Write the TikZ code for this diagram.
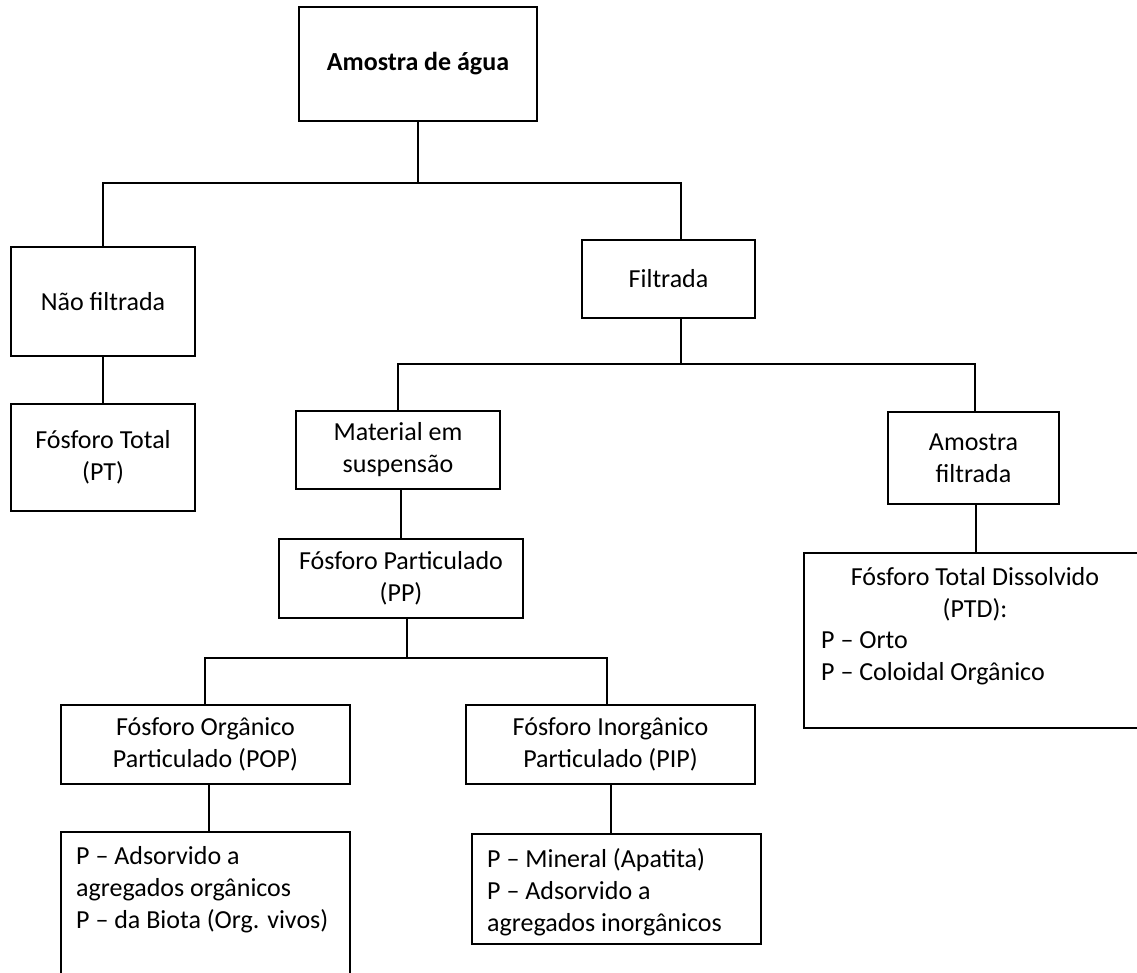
\documentclass[tikz,border=0pt]{standalone}
\usepackage{fontspec}
\setmainfont{Carlito}
\begin{document}
\begin{tikzpicture}[x=1pt,y=-1pt,
  box/.style={draw=black, line width=2pt, inner sep=0pt, align=center,
              font=\fontsize{26}{32}\selectfont},
  txt/.style={inner sep=0pt, font=\fontsize{26}{32}\selectfont},
  link/.style={draw=black, line width=2pt}]
\clip (0,0) rectangle (1137,972);
% boxes
\node[box, minimum width=238pt, minimum height=114pt, font=\fontsize{26}{32}\selectfont\bfseries] (amostra) at (418,64) {Amostra de água};
\node[box, minimum width=184pt, minimum height=109pt] (naofilt) at (103,301.5) {Não filtrada};
\node[box, minimum width=184pt, minimum height=107pt] (pt) at (103,457.5) {Fósforo Total\\(PT)};
\node[box, minimum width=173pt, minimum height=78pt] (filtrada) at (668.5,279) {Filtrada};
\node[box, minimum width=204pt, minimum height=78pt] (material) at (398,450) {Material em\\suspensão};
\node[box, minimum width=244pt, minimum height=79pt] (pp) at (401,578.5) {Fósforo Particulado\\(PP)};
\node[box, minimum width=171pt, minimum height=92pt] (amfilt) at (973.5,458) {Amostra\\filtrada};
\node[box, minimum width=346pt, minimum height=175pt] (ptd) at (977,640.5) {};
\node[txt, anchor=base] (ptd-t1) at (975,585) {Fósforo Total Dissolvido};
\node[txt, anchor=base] (ptd-t2) at (975,617) {(PTD):};
\node[txt, anchor=base west] (ptd-t3) at (821,648) {P – Orto};
\node[txt, anchor=base west] (ptd-t4) at (821,680) {P – Coloidal Orgânico};
\node[box, minimum width=289pt, minimum height=79pt] (pop) at (205.5,744.5) {Fósforo Orgânico\\Particulado (POP)};
\node[box, minimum width=289pt, minimum height=79pt] (pip) at (610.5,744.5) {Fósforo Inorgânico\\Particulado (PIP)};
\node[box, minimum width=289pt, minimum height=168pt] (popsub) at (205.5,916) {};
\node[txt, anchor=base west] (popsub-t1) at (76,864) {P – Adsorvido a};
\node[txt, anchor=base west] (popsub-t2) at (76,896) {agregados orgânicos};
\node[txt, anchor=base west] (popsub-t3) at (76,928) {P – da Biota (Org. vivos)};
\node[box, minimum width=289pt, minimum height=110pt] (pipsub) at (616.5,889) {};
\node[txt, anchor=base west] (pipsub-t1) at (487,867) {P – Mineral (Apatita)};
\node[txt, anchor=base west] (pipsub-t2) at (487,899) {P – Adsorvido a};
\node[txt, anchor=base west] (pipsub-t3) at (487,931) {agregados inorgânicos};
% junctions
\coordinate (j1l) at (103,183);
\coordinate (j1r) at (681,183);
\coordinate (j2c) at (681,364);
\coordinate (j2l) at (398,364);
\coordinate (j2r) at (975,364);
\coordinate (j3c) at (407,658);
\coordinate (j3l) at (205,658);
\coordinate (j3r) at (607,658);
% connectors
\draw[link] (amostra.south) -- (amostra.south |- j1l);
\draw[link] (naofilt.north) -- (j1l) -- (j1r) -- (filtrada.north -| j1r);
\draw[link] (naofilt) -- (pt);
\draw[link] (filtrada.south -| j2c) -- (j2c);
\draw[link] (material.north -| j2l) -- (j2l) -- (j2r) -- (amfilt.north -| j2r);
\draw[link] (material.south -| pp.north) -- (pp.north);
\draw[link] (pp.south -| j3c) -- (j3c);
\draw[link] (pop.north -| j3l) -- (j3l) -- (j3r) -- (pip.north -| j3r);
\draw[link] ([xshift=3.5pt]pop.south) -- ([xshift=3.5pt]pop.south |- popsub.north);
\draw[link] ([xshift=0.5pt]pip.south) -- ([xshift=0.5pt]pip.south |- pipsub.north);
\draw[link] ([xshift=2.5pt]amfilt.south) -- ([xshift=2.5pt]amfilt.south |- ptd.north);
\end{tikzpicture}
\end{document}
